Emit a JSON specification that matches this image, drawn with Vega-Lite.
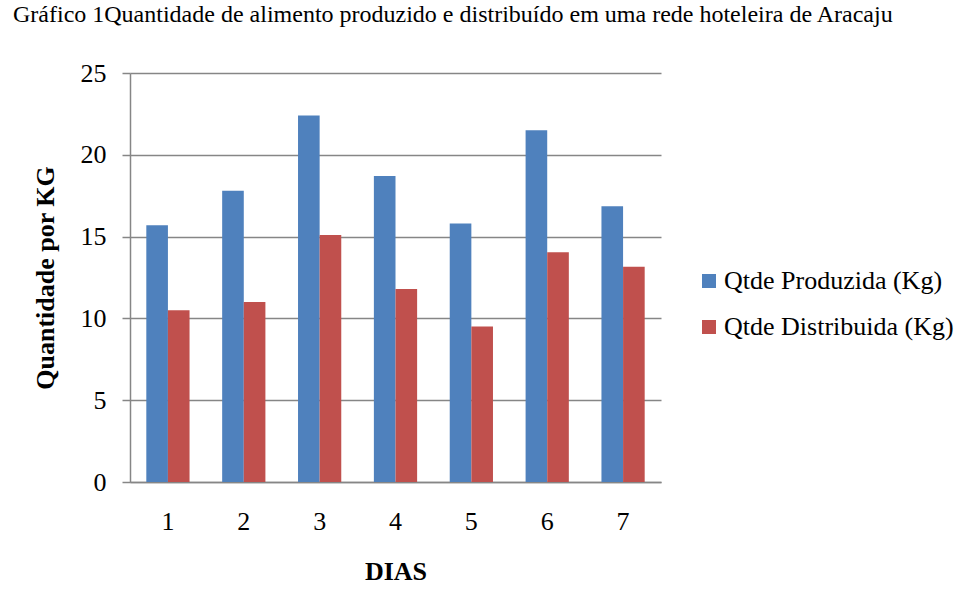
{
  "$schema": "https://vega.github.io/schema/vega-lite/v6.json",
  "autosize": "none",
  "width": 531,
  "height": 409,
  "padding": {"left": 130, "top": 73, "right": 312, "bottom": 110},
  "background": "white",
  "title": {
    "text": "Gráfico 1Quantidade de alimento produzido e distribuído em uma rede hoteleira de Aracaju",
    "anchor": "start",
    "frame": "group",
    "font": "Liberation Serif",
    "fontSize": 24,
    "fontWeight": "normal",
    "color": "black",
    "baseline": "top",
    "offset": 33,
    "dx": -117
  },
  "data": {
    "values": [
      {"dia": "1", "serie": "Qtde Produzida (Kg)", "valor": 15.7},
      {"dia": "1", "serie": "Qtde Distribuida (Kg)", "valor": 10.5},
      {"dia": "2", "serie": "Qtde Produzida (Kg)", "valor": 17.8},
      {"dia": "2", "serie": "Qtde Distribuida (Kg)", "valor": 11.0},
      {"dia": "3", "serie": "Qtde Produzida (Kg)", "valor": 22.4},
      {"dia": "3", "serie": "Qtde Distribuida (Kg)", "valor": 15.1},
      {"dia": "4", "serie": "Qtde Produzida (Kg)", "valor": 18.7},
      {"dia": "4", "serie": "Qtde Distribuida (Kg)", "valor": 11.8},
      {"dia": "5", "serie": "Qtde Produzida (Kg)", "valor": 15.8},
      {"dia": "5", "serie": "Qtde Distribuida (Kg)", "valor": 9.5},
      {"dia": "6", "serie": "Qtde Produzida (Kg)", "valor": 21.5},
      {"dia": "6", "serie": "Qtde Distribuida (Kg)", "valor": 14.05},
      {"dia": "7", "serie": "Qtde Produzida (Kg)", "valor": 16.85},
      {"dia": "7", "serie": "Qtde Distribuida (Kg)", "valor": 13.15}
    ]
  },
  "mark": {"type": "bar"},
  "encoding": {
    "x": {
      "field": "dia",
      "type": "nominal",
      "scale": {"paddingInner": 0.43, "paddingOuter": 0.215},
      "axis": {
        "title": "DIAS",
        "labelAngle": 0,
        "ticks": false,
        "tickSize": 0,
        "labelPadding": 26,
        "titlePadding": 24,
        "domainColor": "#868686",
        "domainWidth": 1.5,
        "grid": false
      }
    },
    "xOffset": {
      "field": "serie",
      "type": "nominal",
      "scale": {"domain": ["Qtde Produzida (Kg)", "Qtde Distribuida (Kg)"], "paddingInner": 0, "paddingOuter": 0}
    },
    "y": {
      "field": "valor",
      "type": "quantitative",
      "scale": {"domain": [0, 25], "nice": false},
      "axis": {
        "title": "Quantidade por KG",
        "values": [0, 5, 10, 15, 20, 25],
        "tickSize": 8,
        "tickColor": "#868686",
        "tickWidth": 1.5,
        "labelPadding": 16,
        "titlePadding": 22,
        "domainColor": "#868686",
        "domainWidth": 1.5,
        "gridColor": "#868686",
        "gridWidth": 1.4
      }
    },
    "color": {
      "field": "serie",
      "type": "nominal",
      "scale": {
        "domain": ["Qtde Produzida (Kg)", "Qtde Distribuida (Kg)"],
        "range": ["#4F81BD", "#C0504D"]
      },
      "legend": {
        "title": null,
        "orient": "none",
        "legendX": 566,
        "legendY": 195,
        "symbolType": "square",
        "symbolSize": 196,
        "symbolStrokeWidth": 0,
        "labelOffset": 2,
        "rowPadding": 20,
        "padding": 0
      }
    }
  },
  "config": {
    "view": {"stroke": null},
    "axis": {
      "labelFont": "Liberation Serif",
      "labelFontSize": 26,
      "labelColor": "black",
      "titleFont": "Liberation Serif",
      "titleFontSize": 26,
      "titleFontWeight": "bold",
      "titleColor": "black"
    },
    "legend": {
      "labelFont": "Liberation Serif",
      "labelFontSize": 26,
      "labelColor": "black",
      "labelLimit": 400
    }
  }
}
